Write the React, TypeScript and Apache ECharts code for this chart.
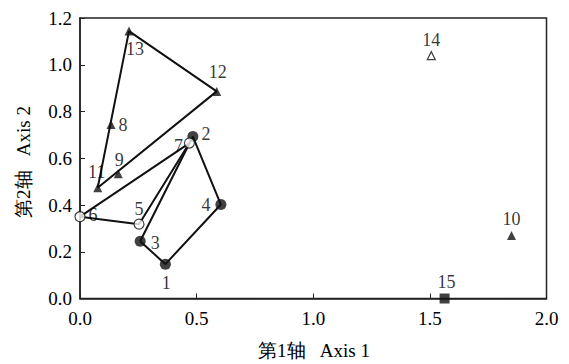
import React, { useEffect, useRef } from "react";
import * as echarts from "echarts";

const pointLabels = ["1", "2", "3", "4", "5", "6", "7", "8", "9", "10", "11", "12", "13", "14", "15"];
const axis1 = [0.366, 0.484, 0.258, 0.604, 0.253, 0.0, 0.469, 0.133, 0.164, 1.85, 0.076, 0.586, 0.21, 1.506, 1.563];
const axis2 = [0.147, 0.693, 0.245, 0.402, 0.318, 0.35, 0.665, 0.744, 0.534, 0.269, 0.474, 0.886, 1.144, 1.039, 0.0];

// groups (indices into the arrays above)
const filledCircleIdx = [0, 1, 2, 3];
const openCircleIdx = [4, 5, 6];
const filledTriangleIdx = [7, 8, 9, 10, 11, 12];
const openTriangleIdx = [13];
const squareIdx = [14];

// polygon outlines (closed)
const hullA = [2, 1, 3, 0, 2];
const hullB = [5, 6, 4, 5];
const hullC = [10, 12, 11, 10];

const xTicks = { min: 0, max: 2, interval: 0.5 };
const yTicks = { min: 0, max: 1.2, interval: 0.2 };

const xName = "第1轴\u2002\u2005Axis 1";
const yName = "第2轴\u2002\u2005Axis 2";

// label offsets (layout only)
const labelOffsets: [number, number][] = [
  [1, 19], [13, -3], [15, 2], [-15, 0], [0, -15], [13, -2], [-11, 3], [12, 0],
  [1, -14], [0, -17], [-1, -16], [1, -19], [6, 18], [0, -16], [2, -17],
];

const FONT = "Liberation Serif, Times New Roman, serif";

export default function App() {
  const ref = useRef<HTMLDivElement>(null);
  useEffect(() => {
    document.body.style.margin = "0";
    if (!ref.current) return;
    const chart = echarts.init(ref.current, undefined, { renderer: "svg" });

    const pt = (i: number) => ({
      value: [axis1[i], axis2[i]],
      label: {
        show: true,
        formatter: pointLabels[i],
        position: "inside",
        offset: labelOffsets[i],
        align: "center",
        verticalAlign: "middle",
        color: "#000",
        fontSize: 18,
        fontFamily: FONT,
      },
    });
    const hull = (idx: number[]) => idx.map((i) => [axis1[i], axis2[i]]);
    const lineSeries = (idx: number[]) => ({
      type: "line",
      data: hull(idx),
      symbol: "none",
      lineStyle: { color: "#111", width: 2 },
      silent: true,
      z: 1,
    });
    const scatter = (idx: number[], symbol: string, size: number, filled: boolean) => ({
      type: "scatter",
      data: idx.map(pt),
      symbol,
      symbolSize: size,
      clip: false,
      z: 3,
      itemStyle: filled
        ? { color: "#111", borderColor: "#111", borderWidth: 0 }
        : { color: "#fff", borderColor: "#111", borderWidth: 1.2 },
    });

    chart.setOption({
      animation: false,
      textStyle: { fontFamily: FONT },
      grid: {
        left: 80,
        right: 22.5,
        top: 18,
        bottom: 65.5,
        show: true,
        borderColor: "#222",
        borderWidth: 1.5,
        backgroundColor: "transparent",
      },
      xAxis: {
        type: "value",
        min: xTicks.min,
        max: xTicks.max,
        interval: xTicks.interval,
        splitLine: { show: false },
        axisLine: { lineStyle: { color: "#222", width: 1.5 } },
        axisTick: { inside: true, length: 5, lineStyle: { color: "#222", width: 1 } },
        axisLabel: {
          margin: 10,
          color: "#000",
          fontSize: 19,
          fontFamily: FONT,
          formatter: (v: number) => v.toFixed(1),
        },
      },
      yAxis: {
        type: "value",
        min: yTicks.min,
        max: yTicks.max,
        interval: yTicks.interval,
        splitLine: { show: false },
        axisLine: { lineStyle: { color: "#222", width: 1.5 } },
        axisTick: { inside: true, length: 5, lineStyle: { color: "#222", width: 1 } },
        axisLabel: {
          margin: 8,
          color: "#000",
          fontSize: 19,
          fontFamily: FONT,
          formatter: (v: number) => v.toFixed(1),
        },
      },
      graphic: [
        {
          type: "text",
          x: 314,
          y: 350,
          style: {
            text: xName,
            fontSize: 19,
            fontFamily: FONT,
            fill: "#000",
            align: "center",
            verticalAlign: "middle",
          },
        },
        {
          type: "text",
          x: 23,
          y: 162,
          rotation: Math.PI / 2,
          style: {
            text: yName,
            fontSize: 19,
            fontFamily: FONT,
            fill: "#000",
            align: "center",
            verticalAlign: "middle",
          },
        },
      ],
      series: [
        lineSeries(hullA),
        lineSeries(hullB),
        lineSeries(hullC),
        scatter(filledCircleIdx, "circle", 11, true),
        scatter(openCircleIdx, "circle", 10, false),
        scatter(filledTriangleIdx, "triangle", 9, true),
        scatter(openTriangleIdx, "triangle", 8, false),
        scatter(squareIdx, "rect", 10, true),
      ],
    });
    return () => chart.dispose();
  }, []);
  return <div ref={ref} style={{ width: 569, height: 364 }} />;
}
